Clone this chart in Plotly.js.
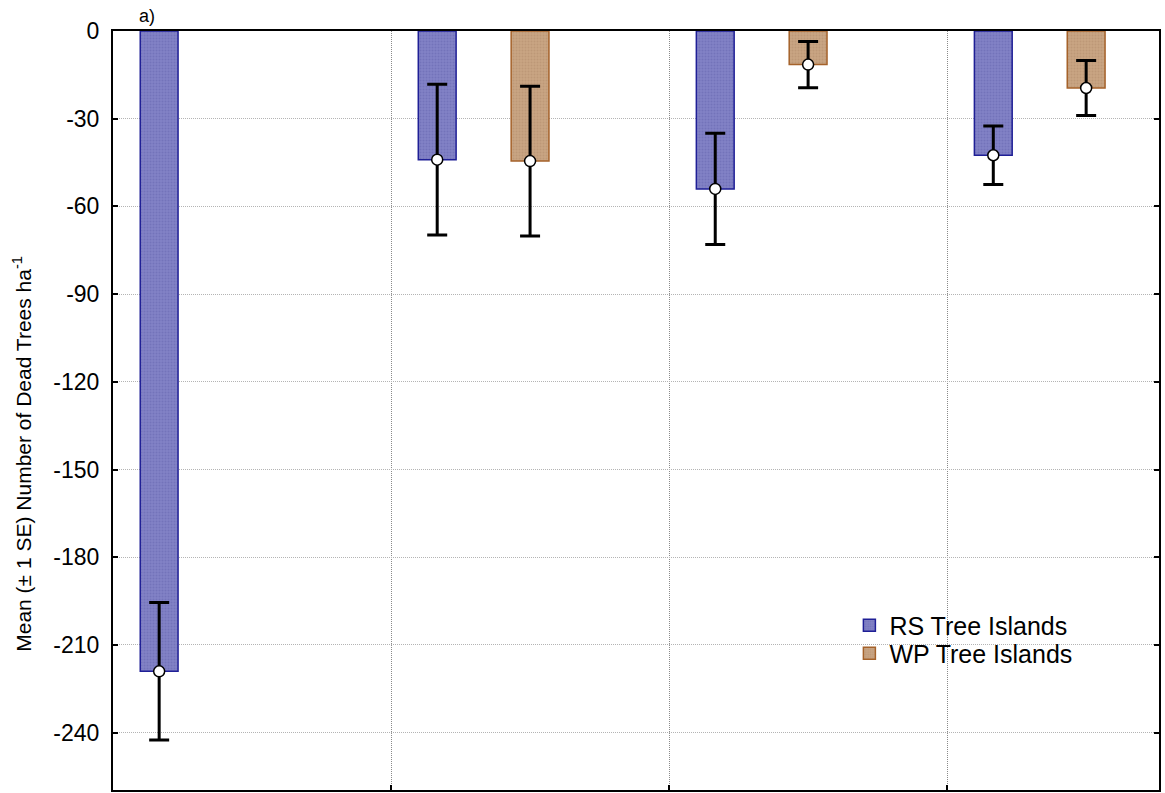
<!DOCTYPE html>
<html>
<head>
<meta charset="utf-8">
<script src="https://cdn.plot.ly/plotly-3.0.1.min.js"></script>
<style>html,body{margin:0;padding:0;background:#fff;}#chart{width:1165px;height:793px;}</style>
</head>
<body>
<div id="chart"></div>
<script>
// Data
const categories = ["Group 1", "Group 2", "Group 3", "Group 4"];
const rsMean = [-219, -44, -54, -42.5];
const rsSE   = [23.5, 25.8, 19, 10];
const wpMean = [null, -44.5, -11.5, -19.5];
const wpSE   = [null, 25.6, 7.9, 9.4];
const seriesNames = ["RS Tree Islands", "WP Tree Islands"];
const yTickVals = [0, -30, -60, -90, -120, -150, -180, -210, -240];
const yTickText = ["0", "-30", "-60", "-90", "-120", "-150", "-180", "-210", "-240"];
const yTitle = "Mean (± 1 SE) Number of Dead Trees ha<sup>-1</sup>";
const panelLabel = "a)";

// layout helpers (positions in category index units)
const idx = categories.map((c, i) => i);
const RS_SHIFT = -0.334;
const BAR_W = 0.136;
const rsX = idx.map(i => i + RS_SHIFT);
const wpX = idx;

const RS_FILL = "#8282c6", RS_LINE = "#1f1f96";
const WP_FILL = "#c9a583", WP_LINE = "#a5622a";

const traces = [
  {type: "bar", name: seriesNames[0], x: rsX, y: rsMean, width: BAR_W, legend: "legend",
   marker: {color: RS_FILL, line: {color: RS_LINE, width: 1.5},
            pattern: {shape: ".", bgcolor: RS_FILL, fgcolor: "#7373ba", size: 3, solidity: 0.35, fillmode: "replace"}},
   hovertext: categories},
  {type: "bar", name: seriesNames[1], x: wpX, y: wpMean, width: BAR_W, legend: "legend2",
   marker: {color: WP_FILL, line: {color: WP_LINE, width: 1.5},
            pattern: {shape: ".", bgcolor: WP_FILL, fgcolor: "#bd9877", size: 3, solidity: 0.35, fillmode: "replace"}},
   hovertext: categories},
  {type: "scatter", mode: "markers", x: rsX, y: rsMean, showlegend: false,
   error_y: {type: "data", array: rsSE, visible: true, color: "#000", thickness: 3, width: 10},
   marker: {size: 11, color: "#fff", line: {color: "#000", width: 1.5}}},
  {type: "scatter", mode: "markers", x: wpX, y: wpMean, showlegend: false,
   error_y: {type: "data", array: wpSE, visible: true, color: "#000", thickness: 3, width: 10},
   marker: {size: 11, color: "#fff", line: {color: "#000", width: 1.5}}}
];

const XR = [-0.5, 3.262];
const legendBase = {xanchor: "left", yanchor: "top", font: {size: 25, color: "#000"},
                    bgcolor: "rgba(0,0,0,0)", itemwidth: 30};
const layout = {
  width: 1165, height: 793,
  margin: {l: 113, r: 6, t: 31, b: 3},
  paper_bgcolor: "#fff", plot_bgcolor: "#fff",
  font: {family: "Arial, Liberation Sans, sans-serif", color: "#000"},
  barmode: "overlay",
  showlegend: true,
  legend: Object.assign({x: 0.704, y: 0.247}, legendBase),
  legend2: Object.assign({x: 0.704, y: 0.210}, legendBase),
  xaxis: {range: XR, tickvals: [0.5, 1.5, 2.5], ticks: "inside", ticklen: 5, tickwidth: 2,
          tickcolor: "#000", showticklabels: false, showgrid: true, griddash: "1px,1px",
          gridcolor: "#8a8a8a", gridwidth: 1, showline: true, linecolor: "#000",
          linewidth: 2, mirror: true, zeroline: false},
  xaxis2: {range: XR, overlaying: "x", side: "top", tickvals: [0, 1, 2, 3],
           ticks: "inside", ticklen: 6, tickwidth: 2, tickcolor: "#000",
           showticklabels: false, showgrid: false, showline: false, zeroline: false},
  yaxis: {range: [-259.6, 0], tickvals: yTickVals, ticktext: yTickText, ticks: "inside",
          ticklen: 5, tickwidth: 2, tickcolor: "#000", mirror: "allticks", showline: true,
          linecolor: "#000", linewidth: 2, showgrid: true, griddash: "1px,1px",
          gridcolor: "#b4b4b4", zeroline: false, tickfont: {size: 23, color: "#000"},
          ticklabelstandoff: 7},
  annotations: [
    {text: panelLabel, xref: "paper", yref: "paper", x: 0.0, y: 1, xshift: 24, yshift: 3,
     yanchor: "bottom", xanchor: "left", showarrow: false, font: {size: 18, color: "#000"}},
    {text: yTitle, xref: "paper", yref: "paper", x: 0, xshift: -91, y: 0.443,
     xanchor: "center", yanchor: "middle", textangle: -90, showarrow: false,
     font: {size: 21, color: "#000"}}
  ]
};

Plotly.newPlot("chart", traces, layout, {staticPlot: true});
</script>
</body>
</html>
